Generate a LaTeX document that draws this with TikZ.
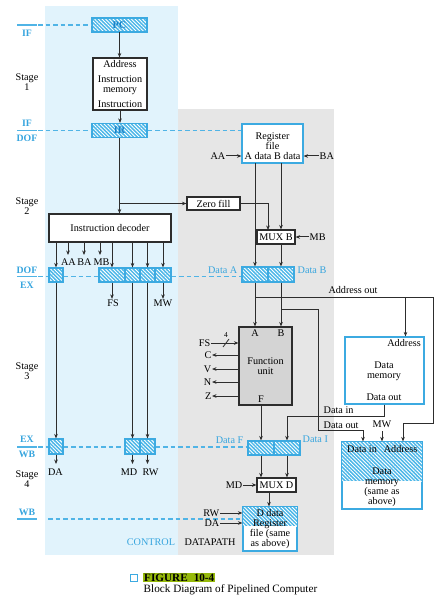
\documentclass[tikz,border=0pt]{standalone}
\usepackage{fontspec}
\setmainfont{Liberation Serif}
\usetikzlibrary{arrows.meta,patterns.meta,calc}
\definecolor{ctrlbg}{RGB}{225,243,252}
\definecolor{dpbg}{RGB}{230,230,230}
\definecolor{hatchbg}{RGB}{75,182,232}
\definecolor{boxblue}{RGB}{60,170,225}
\definecolor{dashblue}{RGB}{80,180,230}
\definecolor{lblblue}{RGB}{55,165,222}
\definecolor{pctext}{RGB}{25,130,200}
\definecolor{linec}{RGB}{45,45,45}
\definecolor{fugray}{RGB}{212,212,212}
\definecolor{figgreen}{RGB}{150,185,10}
\tikzset{
  conn/.style={draw=linec, line width=1pt},
  arr/.style={conn, -{Stealth[length=4.5pt,width=3.6pt]}},
  plainbox/.style={draw=linec, line width=1.1pt, fill=white, inner sep=0pt, align=center},
  bluebox/.style={draw=boxblue, line width=1.2pt, fill=white, inner sep=0pt, align=center},
  hatchpat/.style={pattern={Lines[angle=-45,distance=2.6pt,line width=0.9pt]}, pattern color=white},
  hatchbox/.style={draw=boxblue, line width=1.2pt, inner sep=0pt, preaction={fill=hatchbg}, hatchpat},
  stagedash/.style={draw=dashblue, line width=1.1pt, dash pattern=on 4.5pt off 3pt},
  stagerule/.style={draw=dashblue, line width=1.1pt},
  stagetxt/.style={text=lblblue, font=\fontsize{9.8}{10}\selectfont\bfseries, inner sep=0pt},
  lbl/.style={inner sep=0.5pt},
  bluelbl/.style={inner sep=0.5pt, text=lblblue},
  txt/.style={inner sep=0pt, align=center},
}
\begin{document}
\begin{tikzpicture}[x=1pt,y=-1pt,font=\fontsize{10.2}{10}\selectfont]
\useasboundingbox (0,0) rectangle (444,601);
% backgrounds
\fill[ctrlbg] (45,6) rectangle (178,555);
\fill[dpbg] (178,109) rectangle (334,555);

% ---------- stage labels ----------
\foreach \yy in {25,130.5,276.5,447,519} {\draw[stagerule] (17,\yy) -- (37,\yy);}
\node[stagetxt] (lif1) at (27,33) {IF};
\node[stagetxt] (lif2) at (27,123) {IF};
\node[stagetxt] (ldof1) at (27,138) {DOF};
\node[stagetxt] (ldof2) at (27,270) {DOF};
\node[stagetxt] (lex1) at (27,285) {EX};
\node[stagetxt] (lex2) at (27,439.5) {EX};
\node[stagetxt] (lwb1) at (27,454.5) {WB};
\node[stagetxt] (lwb2) at (27,512) {WB};
\node[txt] (st1) at (27,82) {Stage\\1};
\node[txt] (st2) at (27,206) {Stage\\2};
\node[txt] (st3) at (27,371) {Stage\\3};
\node[txt] (st4) at (27,479) {Stage\\4};

% ---------- control nodes ----------
\node[hatchbox, minimum width=55, minimum height=14] (pc) at (119.5,25) {\textcolor{pctext}{\bfseries PC}};
\node[plainbox, minimum width=54, minimum height=52] (imem) at (120,84) {};
\node[txt] (imt1) at (120,64) {Address};
\node[txt] (imt2) at (120,85) {Instruction\\memory};
\node[txt] (imt3) at (120,104) {Instruction};
\node[hatchbox, minimum width=55, minimum height=14] (ir) at (119.5,130.5) {\textcolor{pctext}{\bfseries IR}};
\node[plainbox, minimum width=122, minimum height=28] (dec) at (110,228) {Instruction decoder};

\node[hatchbox, minimum width=14, minimum height=14] (rs1) at (56,275) {};
\node[hatchbox, minimum width=26, minimum height=14] (rfs) at (112,275) {};
\node[hatchbox, minimum width=15, minimum height=14] (rmd) at (132.5,275) {};
\node[hatchbox, minimum width=15, minimum height=14] (rrw) at (147.5,275) {};
\node[hatchbox, minimum width=16, minimum height=14] (rmw) at (163,275) {};

\node[hatchbox, minimum width=14, minimum height=15] (wda) at (56,446.5) {};
\node[hatchbox, minimum width=15, minimum height=15] (wmd) at (132.5,446.5) {};
\node[hatchbox, minimum width=15, minimum height=15] (wrw) at (147.5,446.5) {};

% ---------- datapath nodes ----------
\node[bluebox, minimum width=61, minimum height=39] (regtop) at (272.5,143.5) {};
\node[txt] (rtt) at (272.5,146) {Register\\file\\A data B data};
\node[plainbox, minimum width=53, minimum height=13] (zf) at (213.5,203.5) {Zero fill};
\node[plainbox, minimum width=38, minimum height=14] (muxb) at (276,237) {MUX B};
\node[hatchbox, minimum width=26, minimum height=15] (da) at (255,274.5) {};
\node[hatchbox, minimum width=26, minimum height=15] (db) at (281,274.5) {};
\node[draw=linec, line width=1.1pt, fill=fugray, minimum width=53, minimum height=78, inner sep=0pt] (fu) at (265.5,366) {};
\node[txt] (fua) at (255,333) {A};
\node[txt] (fub) at (281,333) {B};
\node[txt] (fut) at (265.5,366) {Function\\unit};
\node[txt] (fuf) at (261,399) {F};
\node[bluebox, minimum width=79, minimum height=67] (dmem) at (384.5,370.5) {};
\node[txt, anchor=east] (dmad) at (421,343) {Address};
\node[txt] (dmt) at (384,371) {Data\\memory};
\node[txt] (dmdo) at (384,397) {Data out};
\node[hatchbox, minimum width=26, minimum height=14] (dfr) at (261,448) {};
\node[hatchbox, minimum width=26, minimum height=14] (dir) at (287,448) {};
\node[plainbox, minimum width=39, minimum height=14] (muxd) at (276.5,485) {MUX D};

% data memory (same as above)
\node[bluebox, minimum width=80, minimum height=67] (dmem2) at (382,475.5) {};
\fill[hatchbg] (dmem2.north west) rectangle ($(dmem2.north east)+(0,40)$);
\fill[hatchpat] (dmem2.north west) rectangle ($(dmem2.north east)+(0,40)$);
\draw[boxblue, line width=1.2pt] (dmem2.north west) rectangle (dmem2.south east);
\node[txt] (d2in) at (362,449) {Data in};
\node[txt] (d2ad) at (400.5,449) {Address};
\node[txt] (d2t) at (382,487) {Data\\memory\\(same as\\above)};

% register file (same as above)
\node[bluebox, minimum width=54, minimum height=44] (regbot) at (270,529) {};
\fill[hatchbg] (regbot.north west) rectangle ($(regbot.north east)+(0,20)$);
\fill[hatchpat] (regbot.north west) rectangle ($(regbot.north east)+(0,20)$);
\draw[boxblue, line width=1.2pt] (regbot.north west) rectangle (regbot.south east);
\node[txt] (rbt) at (270,529) {D data\\Register\\file (same\\as above)};

% ---------- dashed stage lines ----------
\draw[stagedash] (38,25) -- (pc.west);
\draw[stagedash] (38,130.5) -- (ir.west);
\draw[stagedash] (ir.east) -- (ir.east -| regtop.west);
\draw[stagedash] (38,276.5) -- (rs1.west |- 0,276.5);
\draw[stagedash] (rs1.east |- 0,276.5) -- (rfs.west |- 0,276.5);
\draw[stagedash] (rmw.east |- 0,276.5) -- (da.west |- 0,276.5);
\draw[stagedash] (38,447) -- (wda.west |- 0,447);
\draw[stagedash] (wda.east |- 0,447) -- (wmd.west |- 0,447);
\draw[stagedash] (wrw.east |- 0,447) -- (dfr.west |- 0,447);
\draw[stagedash] (48,519) -- (regbot.west |- 0,519);

% ---------- control connectors ----------
\draw[arr] (pc.south) -- (pc.south |- imem.north);
\draw[arr] (imem.south) -- (imem.south |- ir.north);
\draw[arr] (ir.south) -- (ir.south |- dec.north);
\coordinate (brz) at (ir.south |- zf.west);
\draw[arr] (brz) -- (zf.west);
\draw[arr] (rs1.north |- dec.south) -- (rs1.north);
\node[lbl] (laa) at (68.5,262) {AA};
\node[lbl] (lba) at (84.5,262) {BA};
\node[lbl] (lmb) at (101.5,262) {MB};
\draw[arr] (68,242) -- (68,255);
\draw[arr] (84,242) -- (84,255);
\draw[arr] (100,242) -- (100,255);
\draw[arr] (rfs.north |- dec.south) -- (rfs.north);
\draw[arr] (rmd.north |- dec.south) -- (rmd.north);
\draw[arr] (rrw.north |- dec.south) -- (rrw.north);
\draw[arr] (rmw.north |- dec.south) -- (rmw.north);
\node[lbl] (lfs) at (113,303) {FS};
\node[lbl] (lmw) at (163,303) {MW};
\draw[arr] (rfs.south) -- (rfs.south |- lfs.north);
\draw[arr] (rmw.south) -- (rmw.south |- lmw.north);
\draw[arr] (rs1.south) -- (wda.north);
\draw[arr] (rmd.south) -- (wmd.north);
\draw[arr] (rrw.south) -- (wrw.north);
\node[lbl] (lda) at (55.5,472) {DA};
\node[lbl] (lmd) at (129,472) {MD};
\node[lbl] (lrw) at (150.5,472) {RW};
\draw[arr] (wda.south) -- (wda.south |- 0,464);
\draw[arr] (wmd.south) -- (wmd.south |- 0,464);
\draw[arr] (wrw.south) -- (wrw.south |- 0,464);

% ---------- datapath connectors ----------
\node[lbl, anchor=east] (raa) at (226,156) {AA};
\draw[arr] (raa.east) -- (raa.east -| regtop.west);
\node[lbl, anchor=west] (rba) at (319,156) {BA};
\draw[arr] (rba.west) -- (rba.west -| regtop.east);
\coordinate (rao) at (255,163);
\coordinate (rbo) at (281,163);
\draw[arr] (rao) -- (da.north);
\draw[arr] (rbo) -- (rbo |- muxb.north);
\draw[arr] (zf.east) -| (268,230);
\node[lbl, anchor=west] (mbl) at (309,237) {MB};
\draw[arr] (mbl.west) -- (muxb.east);
\draw[arr] (muxb.south -| db.north) -- (db.north);
\node[bluelbl, anchor=east] (lda2) at (238,270.5) {Data A};
\node[bluelbl, anchor=west] (ldb2) at (297,270.5) {Data B};

\draw[arr] (da.south) -- (da.south |- fu.north);
\draw[arr] (db.south) -- (db.south |- fu.north);
% address out
\coordinate (aobr) at (255,297);
\coordinate (aoc) at (433,297);
\coordinate (adx1) at (405.5,0);
\coordinate (adx2) at (403,0);
\draw[conn] (aobr) -- (aoc);
\draw[arr] (aoc -| adx1) -- (dmem.north -| adx1);
\draw[arr] (aoc) -- (433,423) -| (dmem2.north -| adx2);
\node[lbl] (lao) at (353,290) {Address out};
% data out
\coordinate (dobr) at (281,309);
\draw[arr] (dobr) -| (318,430.5) -| (dmem2.north -| 363,0);
\node[lbl, anchor=west] (ldo) at (323,425) {Data out};
\node[lbl] (lmw2) at (382,424) {MW};
\draw[arr] (382,431) -- (dmem2.north -| 382,0);
% data in
\draw[arr] (dmem.south -| 384,0) |- (287,416.5) -- (dir.north);
\node[lbl, anchor=west] (ldi) at (323,410.5) {Data in};
% function unit side signals
\node[lbl, anchor=east] (lfs2) at (211,343) {FS};
\draw[arr] (lfs2.east) -- (lfs2.east -| fu.west);
\draw[conn, line width=0.8pt] (223,347) -- (229,339);
\node[lbl, font=\fontsize{7.5}{8}\selectfont] (l4) at (226,335) {4};
\foreach \nm/\yy in {C/355,V/369,N/382,Z/396} {
  \node[lbl, anchor=east] (l\nm) at (212,\yy) {\nm};
  \draw[arr] (fu.west |- l\nm.east) -- (l\nm.east);
}
\draw[arr] (fu.south -| dfr.north) -- (dfr.north);
\node[bluelbl, anchor=east] (ldf) at (244,440) {Data F};
\node[bluelbl, anchor=west] (ldi2) at (302,439) {Data I};
\draw[arr] (dfr.south) -- (dfr.south |- muxd.north);
\draw[arr] (dir.south) -- (dir.south |- muxd.north);
\node[lbl, anchor=east] (lmdd) at (243,485) {MD};
\draw[arr] (lmdd.east) -- (muxd.west);
\draw[arr] (muxd.south -| 269,0) -- (regbot.north -| 269,0);
\node[lbl, anchor=east] (lrw2) at (220,513) {RW};
\node[lbl, anchor=east] (lda3) at (220,523) {DA};
\draw[arr] (lrw2.east) -- (lrw2.east -| regbot.west);
\draw[arr] (lda3.east) -- (lda3.east -| regbot.west);

\node[bluelbl] (lctrl) at (151,542) {CONTROL};
\node[lbl] (ldp) at (210,542) {DATAPATH};

% ---------- caption ----------
\node[draw=boxblue, line width=1pt, minimum size=7, inner sep=0pt] (capbox) at (133.5,577.5) {};
\node[fill=figgreen, anchor=west, inner sep=1pt, font=\fontsize{11.2}{12}\selectfont\bfseries] (figl) at (143,577.5) {FIGURE\hspace{6pt}10-4};
\node[anchor=west, inner sep=0pt, font=\fontsize{11.2}{12}\selectfont] (capt) at (143.5,589.5) {Block Diagram of Pipelined Computer};
\end{tikzpicture}
\end{document}
